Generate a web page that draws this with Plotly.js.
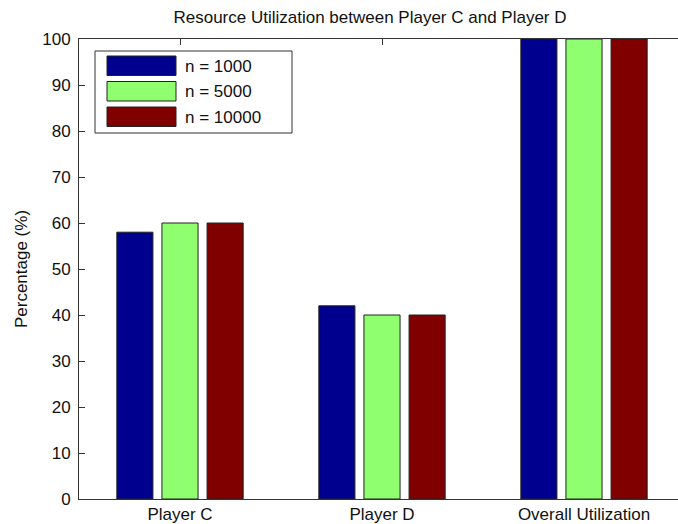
<!DOCTYPE html>
<html>
<head>
<meta charset="utf-8">
<script src="https://cdn.plot.ly/plotly-3.0.1.min.js"></script>
<style>
  html, body { margin: 0; padding: 0; background: #fff; }
  #chart { width: 678px; height: 524px; }
</style>
</head>
<body>
<div id="chart"></div>
<script>
// ---- data ----
var categories = ["Player C", "Player D", "Overall Utilization"];
var seriesNames = ["n = 1000", "n = 5000", "n = 10000"];
var n1000 = [58, 42, 100];
var n5000 = [60, 40, 100];
var n10000 = [60, 40, 100];
var yTicks = [0, 10, 20, 30, 40, 50, 60, 70, 80, 90, 100];

var seriesValues = [n1000, n5000, n10000];
var colors = ["#00008F", "#8FFF70", "#800000"];

var W = 678, H = 524;
var L = 79, T = 39, B = 499, R = 678;
function px(x) { return (x - L) / (R - L); }
function py(y) { return (B - y) / (B - T); }

var FONT = "Liberation Sans, Arial, Helvetica, sans-serif";
var FS = 17;

var traces = seriesValues.map(function (vals, i) {
  return {
    type: "bar",
    name: seriesNames[i],
    x: categories,
    y: vals,
    marker: { color: colors[i], line: { color: "#222", width: 1 } },
    showlegend: false,
    hoverinfo: "x+y+name"
  };
});

// custom MATLAB-like legend
var shapes = [{
  type: "rect", xref: "paper", yref: "paper", layer: "above",
  x0: px(95), x1: px(292), y0: py(133), y1: py(51),
  fillcolor: "#fff", line: { color: "#333", width: 1 }
}];
var annotations = [];
var rowTop = [56, 81.5, 107];
seriesNames.forEach(function (nm, i) {
  shapes.push({
    type: "rect", xref: "paper", yref: "paper", layer: "above",
    x0: px(107), x1: px(176), y0: py(rowTop[i] + 19.5), y1: py(rowTop[i]),
    fillcolor: colors[i], line: { color: "#222", width: 1 }
  });
  annotations.push({
    xref: "paper", yref: "paper", x: px(183), y: py(rowTop[i] + 10),
    xanchor: "left", yanchor: "middle", showarrow: false,
    text: nm, font: { family: FONT, size: FS, color: "#111" }
  });
});

var layout = {
  width: W, height: H,
  margin: { l: L, r: W - R, t: T, b: H - B, pad: 0 },
  paper_bgcolor: "#fff", plot_bgcolor: "#fff",
  font: { family: FONT, size: FS, color: "#111" },
  title: {
    text: "Resource Utilization between Player C and Player D",
    font: { family: FONT, size: FS, color: "#111" },
    x: 370 / W, xref: "container", xanchor: "center",
    y: 1 - 17 / H, yref: "container", yanchor: "middle"
  },
  barmode: "group",
  bargap: 0.33,
  bargroupgap: 0.2,
  xaxis: {
    type: "category",
    range: [-0.5, 2.5 - 7 / 202],
    showline: true, linecolor: "#333", linewidth: 1,
    mirror: "ticks",
    ticks: "inside", ticklen: 6, tickcolor: "#333",
    showgrid: false, zeroline: false,
    layer: "below traces",
    tickfont: { family: FONT, size: FS, color: "#111" },
    fixedrange: true
  },
  yaxis: {
    range: [0, 100],
    tickvals: yTicks,
    ticktext: yTicks.map(String),
    showline: true, linecolor: "#333", linewidth: 1,
    mirror: false,
    ticks: "inside", ticklen: 6, tickcolor: "#333",
    showgrid: false, zeroline: false,
    layer: "below traces",
    ticklabelstandoff: 4,
    tickfont: { family: FONT, size: FS, color: "#111" },
    title: { text: "Percentage (%)", font: { family: FONT, size: FS, color: "#111" }, standoff: 10 },
    fixedrange: true
  },
  shapes: shapes,
  annotations: annotations
};

Plotly.newPlot("chart", traces, layout, { displayModeBar: false, staticPlot: true });
</script>
</body>
</html>
